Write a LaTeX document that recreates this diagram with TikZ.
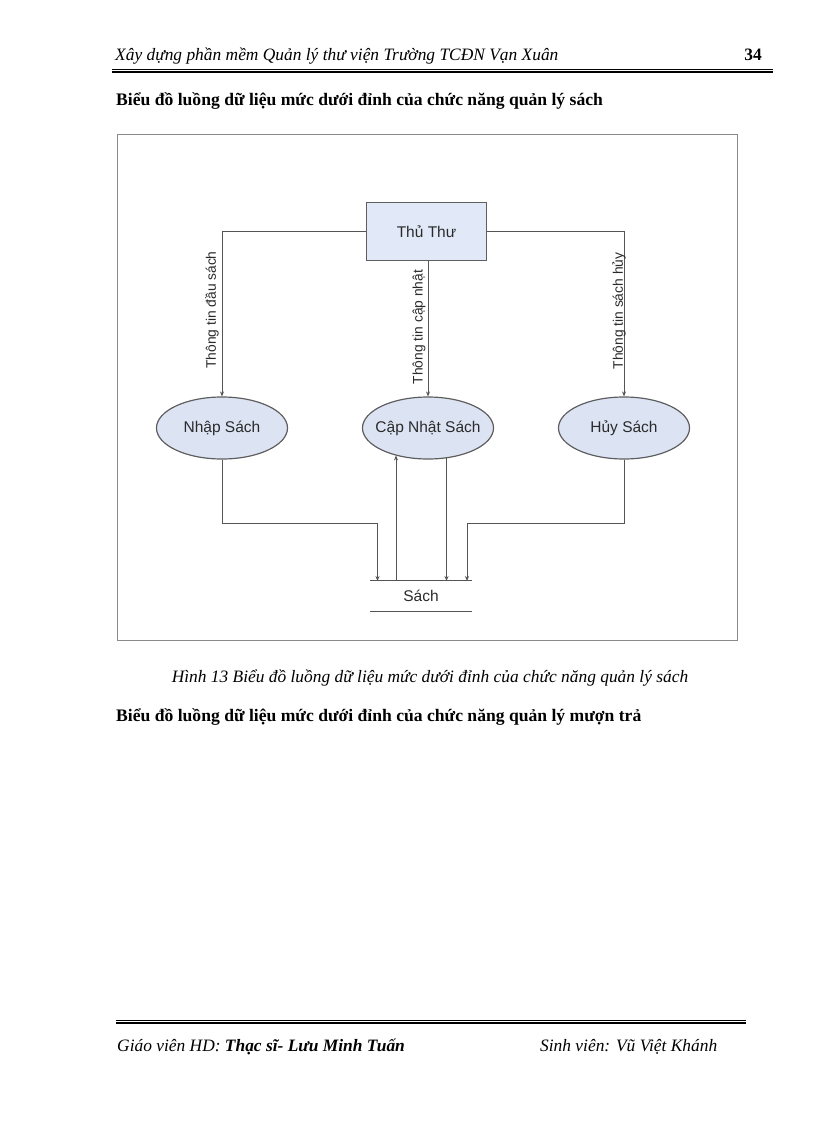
\documentclass[tikz,border=0pt]{standalone}
\usepackage{fontspec}
\setmainfont{Liberation Serif}
\newfontfamily\diagfont{Liberation Sans}
\usetikzlibrary{shapes.geometric,arrows.meta}
\definecolor{edgecol}{HTML}{555555}
\definecolor{boxfill}{HTML}{E1E8F7}
\definecolor{ellfill}{HTML}{DCE3F3}
\definecolor{bordcol}{HTML}{5E5E5E}
\definecolor{lblcol}{HTML}{2A2A2A}
\definecolor{framecol}{HTML}{8A8A8A}
\newcommand{\pagefont}{\fontsize{17.4}{20}\selectfont}
\begin{document}
\begin{tikzpicture}[x=1pt,y=-1pt,
  flow/.style={draw=edgecol, line width=0.9pt, -{Stealth[length=5pt,width=4pt]}},
  link/.style={draw=edgecol, line width=0.9pt},
  process/.style={ellipse, draw=bordcol, line width=1.2pt, fill=ellfill,
    minimum width=131, minimum height=62, inner ysep=0pt, inner xsep=-8pt,
    font=\diagfont\fontsize{15.5}{17}\selectfont, text=lblcol},
  entity/.style={rectangle, draw=bordcol, line width=1.2pt, fill=boxfill,
    minimum width=120, minimum height=58, inner sep=0pt,
    font=\diagfont\fontsize{15.5}{17}\selectfont, text=lblcol},
  store/.style={rectangle, minimum width=101, minimum height=30, inner sep=0pt,
    font=\diagfont\fontsize{15.5}{17}\selectfont, text=lblcol},
  flowlabel/.style={rotate=90, inner sep=0pt,
    font=\diagfont\fontsize{13.8}{15}\selectfont, text=lblcol},
  pagetext/.style={inner sep=0pt, anchor=base west},
  rulethin/.style={draw=black, line width=0.8pt},
  rulethick/.style={draw=black, line width=2pt}
]
\useasboundingbox (0,0) rectangle (816,1123);
\fill[white] (0,0) rectangle (816,1123);

% header
\node[pagetext, font=\pagefont\itshape] (hdr) at (115,61)
  {Xây dựng phần mềm Quản lý thư viện Trường TCĐN Vạn Xuân};
\node[inner sep=0pt, anchor=base east, font=\pagefont\bfseries] (pg) at (762,61) {34};
\draw[rulethin] (112,69.3) -- (773,69.3);
\draw[rulethick] (112,72.5) -- (773,72.5);

% title
\node[pagetext, font=\fontsize{17.6}{20}\selectfont\bfseries] (t1) at (116,106)
  {Biểu đồ luồng dữ liệu mức dưới đỉnh của chức năng quản lý sách};

% frame
\draw[draw=framecol, line width=1pt] (117,134.5) rectangle (737,640);

% nodes
\node[entity] (tt) at (426.5,231.3) {Thủ Thư};
\node[process] (nhap) at (222,428) {Nhập Sách};
\node[process] (cap) at (428,428) {Cập Nhật Sách};
\node[process] (huy) at (624,428) {Hủy Sách};
\node[store] (sach) at (421,596) {Sách};
\draw[link] (sach.north west) -- (sach.north east);
\draw[link] (sach.south west) -- (sach.south east);

% top flows
\draw[flow] (tt.west) -| (nhap.north);
\draw[flow] (tt.south -| cap.north) -- (cap.north);
\draw[flow] (tt.east) -| (huy.north);

\node[flowlabel] (l1) at (212,310) {Thông tin đầu sách};
\node[flowlabel] (l2) at (419,327) {Thông tin cập nhật};
\node[flowlabel] (l3) at (619,311) {Thông tin sách hủy};

% bottom flows
\coordinate (s1) at (377.5,581);
\coordinate (s2) at (396,581);
\coordinate (s3) at (446.5,581);
\coordinate (s4) at (467,581);
\coordinate (j1) at (377.5,523);
\coordinate (j4) at (467,523);
\draw[flow] (nhap.south) |- (j1) -- (s1);
\draw[flow] (s2) -- (s2 |- cap.220);
\draw[flow] (s3 |- cap.-59) -- (s3);
\draw[flow] (huy.south) |- (j4) -- (s4);

% caption and next title
\node[inner sep=0pt, anchor=base, font=\pagefont\itshape] (cap13) at (430,682)
  {Hình 13 Biểu đồ luồng dữ liệu mức dưới đỉnh của chức năng quản lý sách};
\node[pagetext, font=\fontsize{17.6}{20}\selectfont\bfseries] (t2) at (116,721)
  {Biểu đồ luồng dữ liệu mức dưới đỉnh của chức năng quản lý mượn trả};

% footer
\draw[rulethin] (116,1020) -- (746,1020);
\draw[rulethick] (116,1023.3) -- (746,1023.3);
\node[pagetext, font=\pagefont\itshape] (ft1) at (117,1051)
  {Giáo viên HD: \textbf{Thạc sĩ- Lưu Minh Tuấn}};
\node[pagetext, font=\pagefont\itshape] (ft2) at (540,1051)
  {Sinh viên: Vũ Việt Khánh};
\end{tikzpicture}
\end{document}
